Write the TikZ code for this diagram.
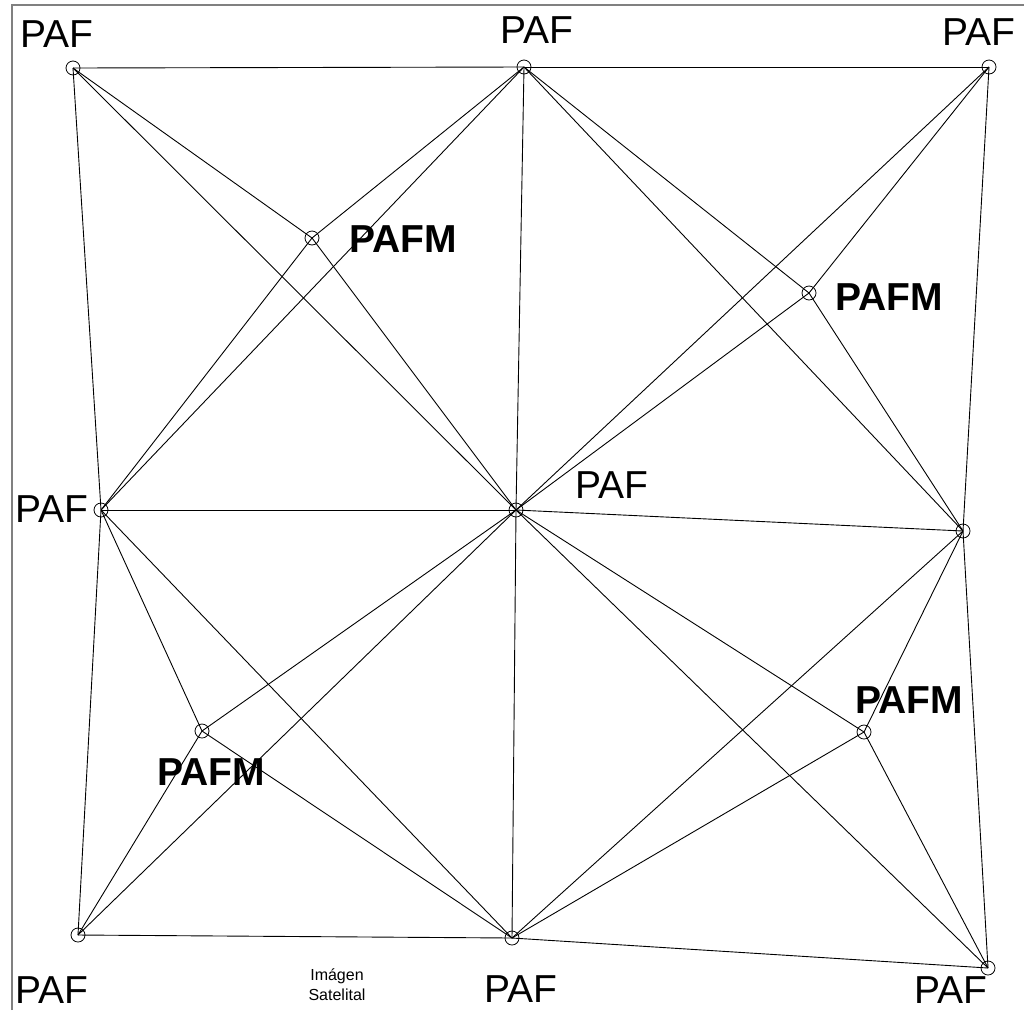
\documentclass[tikz,border=0pt]{standalone}
\usepackage{fontspec}
\setmainfont{Liberation Sans}
\begin{document}
\begin{tikzpicture}[x=1pt,y=-1pt,
  pt/.style={circle,draw,inner sep=0pt,minimum size=14pt,line width=0.8pt},
  lbl/.style={font=\fontsize{39}{42}\selectfont, anchor=base west, inner sep=0pt},
  lblb/.style={font=\fontsize{39}{42}\selectfont\bfseries, anchor=base west, inner sep=0pt},
  small/.style={font=\fontsize{16}{20}\selectfont, align=center, inner sep=0pt},
  edge/.style={line width=0.9pt}]
\useasboundingbox (0,0) rectangle (1024,1010);
\draw[gray, line width=1.2pt] (12,1010) -- (12,5) -- (1024,5);
% stations
\node[pt] (A) at (73,68) {};
\node[pt] (B) at (524,67) {};
\node[pt] (C) at (989,67) {};
\node[pt] (D) at (101,510) {};
\node[pt] (E) at (516,510) {};
\node[pt] (F) at (963,531) {};
\node[pt] (G) at (78,935) {};
\node[pt] (H) at (512,938) {};
\node[pt] (I) at (988,968) {};
\node[pt] (P1) at (312,238) {};
\node[pt] (P2) at (809,293) {};
\node[pt] (P3) at (202,731) {};
\node[pt] (P4) at (864,732) {};
% connectors
\foreach \u/\v in {A/B,B/C,A/D,A/P1,A/E,B/P1,B/D,B/E,B/P2,B/F,C/P2,C/E,C/F,
  P1/D,P1/E,P2/E,P2/F,D/E,D/G,D/P3,D/H,E/F,E/G,E/H,E/I,E/P3,E/P4,
  F/I,F/P4,F/H,G/P3,G/H,H/I,H/P3,H/P4,I/P4}
  \draw[edge] (\u.center) -- (\v.center);
% labels
\node[lbl] (lA) at (20,47) {PAF};
\node[lbl] (lB) at (500,43) {PAF};
\node[lbl] (lC) at (942,45) {PAF};
\node[lbl] (lD) at (15,522) {PAF};
\node[lbl] (lE) at (575,498) {PAF};
\node[lbl] (lG) at (15,1003) {PAF};
\node[lbl] (lH) at (484,1002) {PAF};
\node[lbl] (lI) at (914,1003) {PAF};
\node[lblb] (lP1) at (349,252) {PAFM};
\node[lblb] (lP2) at (835,310) {PAFM};
\node[lblb] (lP3) at (157,785) {PAFM};
\node[lblb] (lP4) at (855,713) {PAFM};
\node[small] (sat) at (337,985) {Imágen\\Satelital};
\end{tikzpicture}
\end{document}
